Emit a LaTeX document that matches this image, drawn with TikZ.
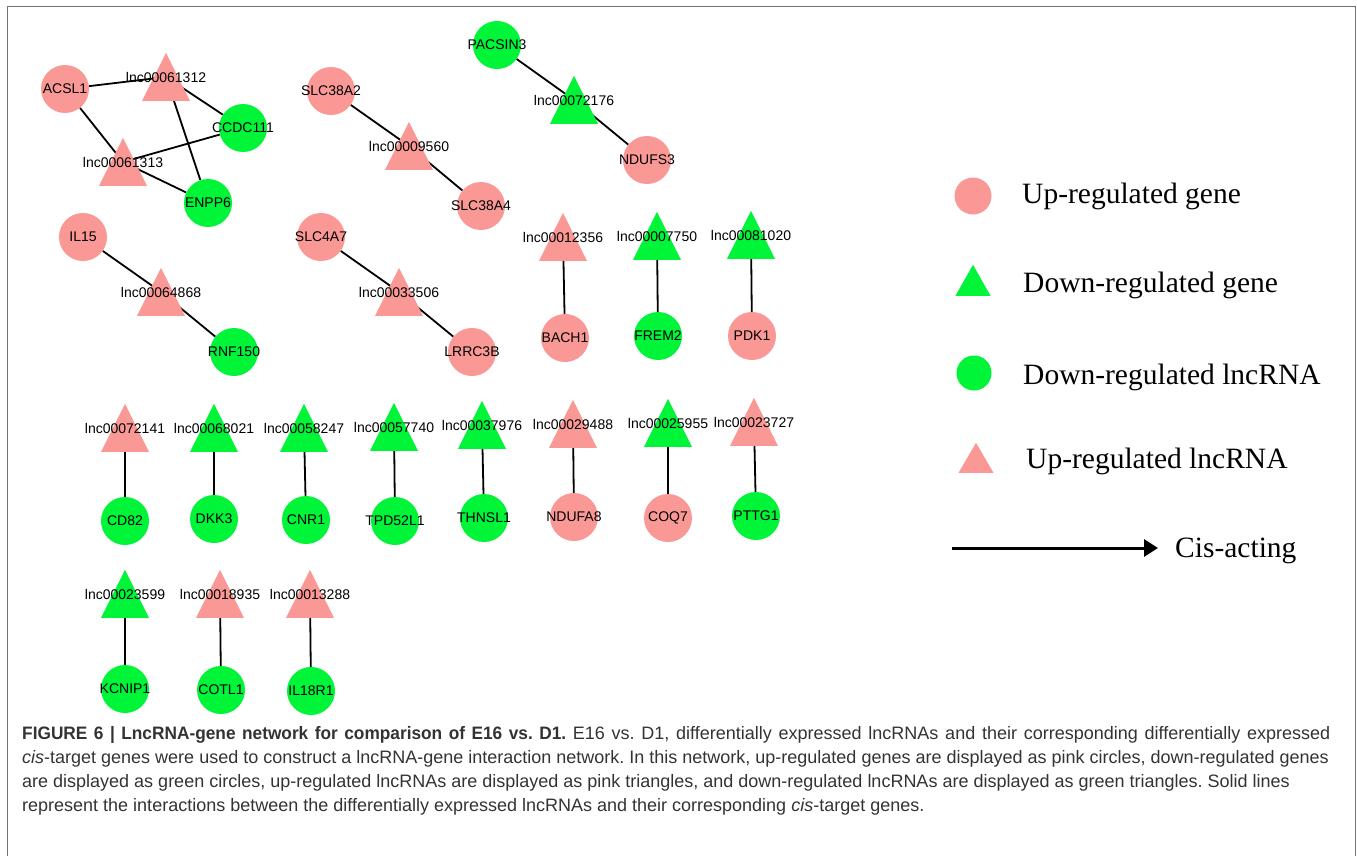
\documentclass[tikz,border=0pt]{standalone}
\usepackage{fontspec}
\setmainfont{Liberation Sans}
\newfontfamily\legendfont{Liberation Serif}
\usetikzlibrary{shapes.geometric,arrows.meta,backgrounds}
\definecolor{uppink}{RGB}{250,152,150}
\definecolor{downgreen}{RGB}{0,244,56}
\tikzstyle{gene}=[circle,minimum size=48pt,inner sep=0pt,font=\fontsize{14}{16}\selectfont]
\tikzstyle{up}=[fill=uppink]
\tikzstyle{down}=[fill=downgreen]
\tikzstyle{tri}=[isosceles triangle,isosceles triangle stretches,shape border rotate=90,minimum width=48pt,minimum height=48pt,inner sep=0pt,anchor=lower side]
\tikzstyle{lbl}=[inner sep=0pt,font=\fontsize{14}{16}\selectfont]
\tikzstyle{link}=[line width=1.8pt]
\tikzstyle{legtext}=[anchor=base west,inner sep=0pt,font=\legendfont\fontsize{29.5}{32}\selectfont]
\tikzstyle{caption}=[anchor=north west,inner sep=0pt,align=left,text=black!80,font=\fontsize{18}{24}\selectfont\frenchspacing]
\tikzstyle{frame}=[draw=black!55,line width=1.5pt]

% gene: name, x, y, colour style, label
\newcommand{\gene}[5]{%
	\node[gene,#4] (#1) at (#2,#3) {\makebox[0pt]{#5}};
}
% lncRNA: name, x, y, colour style, label
\newcommand{\lnc}[5]{%
	\node[tri,#4] (#1-tri) at (#2,#3+24) {};
	\node[lbl] (#1) at (#2,#3) {#5};
}

\begin{document}
\begin{tikzpicture}[x=1pt,y=-1pt]
	\useasboundingbox (0,0) rectangle (1357,856);
	\draw[frame] (7.5,6.5) rectangle (1355.5,860);

	% first cluster
	\gene{acsl1}{65}{89}{up}{ACSL1}
	\gene{ccdc111}{243}{128}{down}{CCDC111}
	\gene{enpp6}{208}{203}{down}{ENPP6}
	\lnc{lnc61312}{166}{77}{up}{lnc00061312}
	\lnc{lnc61313}{123}{162}{up}{lnc00061313}

	\gene{slc38a2}{331}{91}{up}{SLC38A2}
	\lnc{lnc9560}{409}{146}{up}{lnc00009560}
	\gene{slc38a4}{481}{206}{up}{SLC38A4}

	\gene{pacsin3}{497}{45}{down}{PACSIN3}
	\lnc{lnc72176}{574}{100}{down}{lnc00072176}
	\gene{ndufs3}{647}{160}{up}{NDUFS3}

	\gene{il15}{83}{237}{up}{IL15}
	\lnc{lnc64868}{161}{292}{up}{lnc00064868}
	\gene{rnf150}{234}{352}{down}{RNF150}

	\gene{slc4a7}{321}{237}{up}{SLC4A7}
	\lnc{lnc33506}{399}{292}{up}{lnc00033506}
	\gene{lrrc3b}{472}{352}{up}{LRRC3B}

	% pairs
	\lnc{lnc12356}{563}{237}{up}{lnc00012356}
	\gene{bach1}{565}{338}{up}{BACH1}
	\lnc{lnc7750}{657}{236}{down}{lnc00007750}
	\gene{frem2}{658}{336}{down}{FREM2}
	\lnc{lnc81020}{751}{235}{down}{lnc00081020}
	\gene{pdk1}{752}{336}{up}{PDK1}

	\lnc{lnc72141}{125}{428}{up}{lnc00072141}
	\gene{cd82}{125}{521}{down}{CD82}
	\lnc{lnc68021}{214}{428}{down}{lnc00068021}
	\gene{dkk3}{214}{519}{down}{DKK3}
	\lnc{lnc58247}{304}{428}{down}{lnc00058247}
	\gene{cnr1}{306}{520}{down}{CNR1}
	\lnc{lnc57740}{394}{427}{down}{lnc00057740}
	\gene{tpd52l1}{395}{521}{down}{TPD52L1}
	\lnc{lnc37976}{482}{425}{down}{lnc00037976}
	\gene{thnsl1}{484}{518}{down}{THNSL1}
	\lnc{lnc29488}{573}{424}{up}{lnc00029488}
	\gene{ndufa8}{574}{517}{up}{NDUFA8}
	\lnc{lnc25955}{668}{423}{down}{lnc00025955}
	\gene{coq7}{668}{518}{up}{COQ7}
	\lnc{lnc23727}{754}{422}{up}{lnc00023727}
	\gene{pttg1}{756}{516}{down}{PTTG1}

	\lnc{lnc23599}{125}{594}{down}{lnc00023599}
	\gene{kcnip1}{125}{689}{down}{KCNIP1}
	\lnc{lnc18935}{220}{594}{up}{lnc00018935}
	\gene{cotl1}{221}{690}{down}{COTL1}
	\lnc{lnc13288}{310}{594}{up}{lnc00013288}
	\gene{il18r1}{311}{691}{down}{IL18R1}

	\begin{scope}[on background layer]
		\draw[link] (acsl1) -- (lnc61312.center);
		\draw[link] (acsl1) -- (lnc61313.center);
		\draw[link] (ccdc111) -- (lnc61312.center);
		\draw[link] (enpp6) -- (lnc61312.center);
		\draw[link] (ccdc111) -- (lnc61313.center);
		\draw[link] (enpp6) -- (lnc61313.center);
		\draw[link] (slc38a2) -- (lnc9560.center) -- (slc38a4);
		\draw[link] (pacsin3) -- (lnc72176.center) -- (ndufs3);
		\draw[link] (il15) -- (lnc64868.center) -- (rnf150);
		\draw[link] (slc4a7) -- (lnc33506.center) -- (lrrc3b);
		\draw[link] (lnc12356.center) -- (bach1);
		\draw[link] (lnc7750.center) -- (frem2);
		\draw[link] (lnc81020.center) -- (pdk1);
		\draw[link] (lnc72141.center) -- (cd82);
		\draw[link] (lnc68021.center) -- (dkk3);
		\draw[link] (lnc58247.center) -- (cnr1);
		\draw[link] (lnc57740.center) -- (tpd52l1);
		\draw[link] (lnc37976.center) -- (thnsl1);
		\draw[link] (lnc29488.center) -- (ndufa8);
		\draw[link] (lnc25955.center) -- (coq7);
		\draw[link] (lnc23727.center) -- (pttg1);
		\draw[link] (lnc23599.center) -- (kcnip1);
		\draw[link] (lnc18935.center) -- (cotl1);
		\draw[link] (lnc13288.center) -- (il18r1);
	\end{scope}

	% legend
	\node[gene,up,minimum size=37pt] (key-up) at (973,196) {};
	\node[legtext] (key-up-t) at (1022,203) {Up-regulated gene};
	\node[tri,down,minimum width=35pt,minimum height=31pt] (key-dn) at (973,296) {};
	\node[legtext] (key-dn-t) at (1023,292) {Down-regulated gene};
	\node[gene,down,minimum size=35pt] (key-dnl) at (974,373) {};
	\node[legtext] (key-dnl-t) at (1023,384) {Down-regulated lncRNA};
	\node[tri,up,minimum width=35pt,minimum height=30pt] (key-upl) at (976,473) {};
	\node[legtext] (key-upl-t) at (1026,468) {Up-regulated lncRNA};
	\coordinate (cis-a) at (952,548);
	\coordinate (cis-b) at (1158,548);
	\draw[-{Triangle[length=14pt,width=17pt]},line width=3pt] (cis-a) -- (cis-b);
	\node[legtext] (cis-t) at (1175,557) {Cis-acting};

	\node[caption] (cap) at (22,726) {\makebox[1308pt][s]{{\bfseries\addfontfeature{FakeStretch=0.96}FIGURE 6 | LncRNA-gene network for comparison of E16 vs. D1.} E16 vs. D1, differentially expressed lncRNAs and their corresponding differentially expressed}\\
		\textit{cis}-target genes were used to construct a lncRNA-gene interaction network. In this network, up-regulated genes are displayed as pink circles, down-regulated genes\\
		are displayed as green circles, up-regulated lncRNAs are displayed as pink triangles, and down-regulated lncRNAs are displayed as green triangles. Solid lines\\
		represent the interactions between the differentially expressed lncRNAs and their corresponding \textit{cis}-target genes.};
\end{tikzpicture}
\end{document}
